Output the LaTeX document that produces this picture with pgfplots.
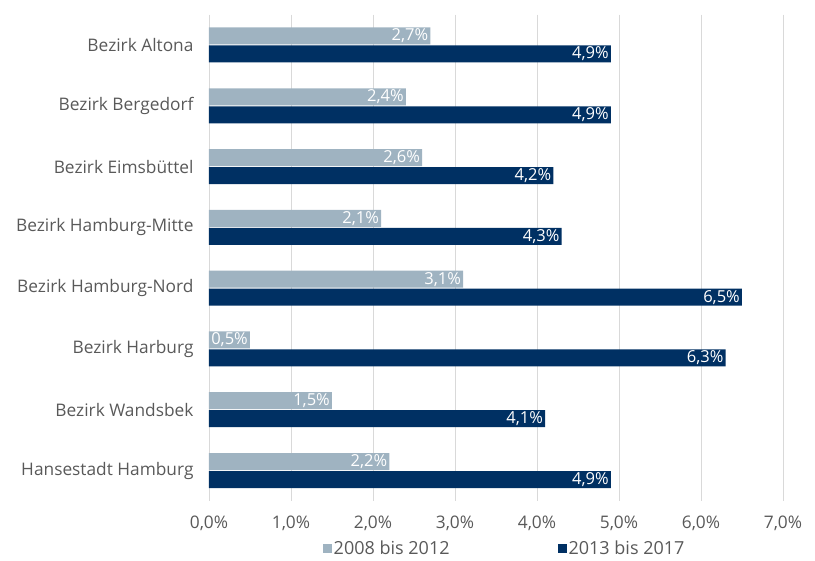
\documentclass[border=0pt]{standalone}
\usepackage{fontspec}
\setmainfont{Open Sans}
\usepackage{pgfplots}
\pgfplotsset{compat=1.18}
\definecolor{hell}{HTML}{9FB3C1}
\definecolor{dunkel}{HTML}{003063}
\definecolor{txt}{HTML}{595959}
\definecolor{grd}{HTML}{D9D9D9}
\begin{document}
\begin{tikzpicture}[font=\fontsize{17.3}{20}\selectfont]
\begin{axis}[
    at={(0,0)}, anchor=south west,
    scale only axis,
    width=574pt, height=486.3pt,
    xbar=0.5pt, bar width=17pt,
    xmin=0, xmax=7,
    ymin=-0.5, ymax=7.5,
    y dir=reverse,
    axis line style={draw=none},
    major tick length=0pt,
    xmajorgrids, grid style={grd, line width=0.8pt},
    xtick={0,1,...,7},
    xticklabel={\pgfmathprintnumber[fixed,fixed zerofill,precision=1,use comma]{\tick}\%},
    /pgf/number format/assume math mode=true,
    ytick={0,...,7},
    yticklabels={Bezirk Altona, Bezirk Bergedorf, Bezirk Eimsbüttel, Bezirk Hamburg-Mitte, Bezirk Hamburg-Nord, Bezirk Harburg, Bezirk Wandsbek, Hansestadt Hamburg},
    tick label style={text=txt},
    x tick label style={yshift=-12pt},
    y tick label style={xshift=-12pt},
    nodes near coords={\pgfmathprintnumber[fixed,fixed zerofill,precision=1,use comma]{\pgfplotspointmeta}\%},
    nodes near coords align={anchor=east},
    every node near coord/.append style={text=white, anchor=east, inner sep=2pt, font=\fontsize{16.5}{18}\selectfont},
    legend style={at={(0.515,0)}, anchor=center, yshift=-48pt, draw=none, fill=none,
        legend columns=2, /tikz/every even column/.append style={column sep=106pt},
        text=txt, font=\fontsize{18}{20}\selectfont},
    legend image code/.code={\fill[#1] (0pt,-4.5pt) rectangle (9pt,4.5pt);},
]
\addplot[fill=hell, draw=none, bar shift=9pt] coordinates {
(2.7,0) (2.4,1) (2.6,2) (2.1,3) (3.1,4) (0.5,5) (1.5,6) (2.2,7)};
\addplot[fill=dunkel, draw=none, bar shift=-9pt] coordinates {
(4.9,0) (4.9,1) (4.2,2) (4.3,3) (6.5,4) (6.3,5) (4.1,6) (4.9,7)};
\legend{2008 bis 2012, 2013 bis 2017}
\end{axis}
\useasboundingbox (-209pt,-59.1pt) rectangle (606pt,500.9pt);
\end{tikzpicture}
\end{document}
